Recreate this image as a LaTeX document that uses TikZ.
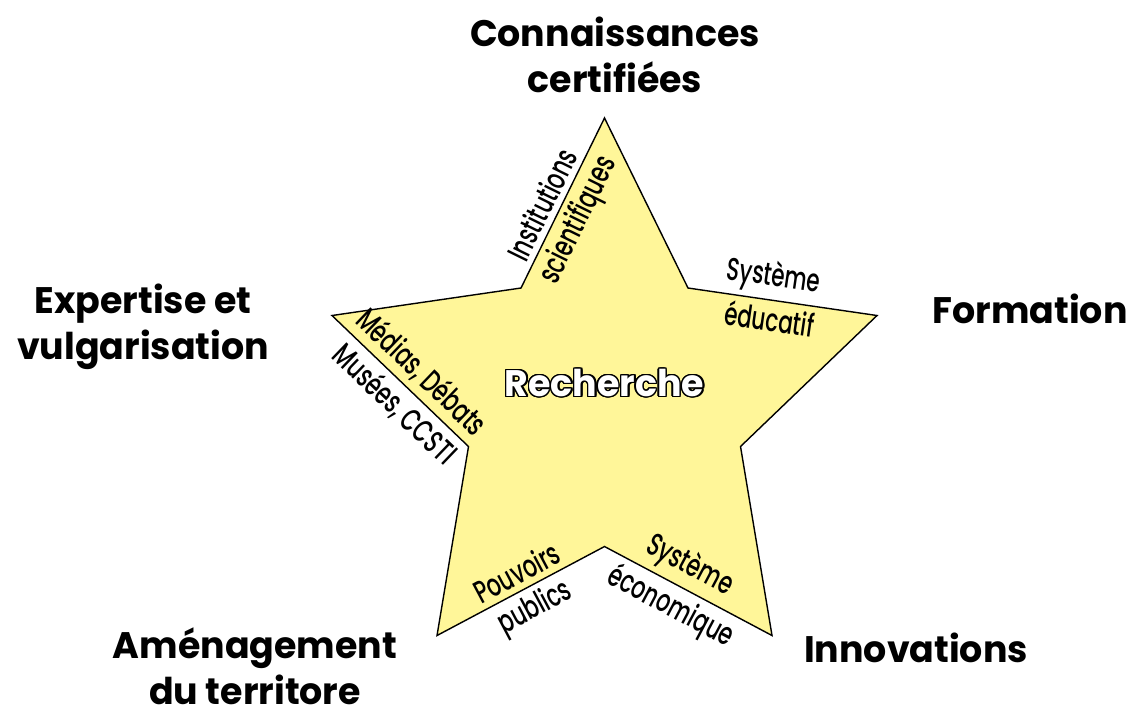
\documentclass[tikz,border=0pt]{standalone}
\usepackage{fontspec}
\newfontfamily\headfont{Poppins}[FakeStretch=0.985]
\newfontfamily\edgefont{Poppins Medium}[FakeStretch=0.68]
\definecolor{staryellow}{RGB}{255,246,153}
\tikzstyle{pole}=[%
	font=\headfont\bfseries\fontsize{10.5}{13}\selectfont, align=center, inner sep=0
]
\tikzstyle{edgetext}=[%
	font=\edgefont\fontsize{9}{10}\selectfont, sloped, inner sep=1.5pt
]
\tikzstyle{recherche}=[%
	font=\headfont\bfseries\fontsize{10.5}{12}\selectfont, inner sep=0
]

\begin{document}
\begin{tikzpicture}[x=0.01cm, y=-0.01cm]
	\useasboundingbox (0,0) rectangle (1131,708);

	\coordinate (u1) at (604.5,118);
	\coordinate (v1) at (688,288);
	\coordinate (u2) at (877,315.5);
	\coordinate (v2) at (740.5,446.5);
	\coordinate (u3) at (772,635.5);
	\coordinate (v3) at (604.5,546.5);
	\coordinate (u4) at (437,635.5);
	\coordinate (v4) at (468.5,446.5);
	\coordinate (u5) at (332,315.5);
	\coordinate (v5) at (521,288);
	\coordinate (centre) at (604.5,383);

	\draw[fill=staryellow, line width=0.4pt]
		(u1) -- (v1) -- (u2) -- (v2) -- (u3) -- (v3) -- (u4) -- (v4) -- (u5) -- (v5) -- cycle;

	\path (v5) -- (u1)
		node[edgetext, above, pos=0.445] (inst) {Institutions}
		node[edgetext, below, pos=0.456] (scient) {scientifiques};
	\path (v1) -- (u2)
		node[edgetext, above, pos=0.435] (syst1) {Système}
		node[edgetext, below, pos=0.446] (educ) {éducatif};
	\path (u5) -- (v4)
		node[edgetext, above, pos=0.55] (medias) {Médias, Débats}
		node[edgetext, below, pos=0.565] (musees) {Musées, CCSTI};
	\path (u4) -- (v3)
		node[edgetext, above, pos=0.526] (pouv) {Pouvoirs}
		node[edgetext, below, pos=0.525] (publ) {publics};
	\path (v3) -- (u3)
		node[edgetext, above, pos=0.445] (syst2) {Système}
		node[edgetext, below, pos=0.457] (econ) {économique};

	\foreach \a in {0,22.5,...,337.5}
		\node[recherche, text=black] at ([shift={(\a:0.4pt)}]centre) {Recherche};
	\node[recherche, text=white] (rech) at (centre) {Recherche};

	\node[pole] (conn) at (615,55) {Connaissances\\certifiées};
	\node[pole] (form) at (1030,309) {Formation};
	\node[pole] (innov) at (916,648) {Innovations};
	\node[pole] (amen) at (255,666) {Aménagement\\du territore};
	\node[pole] (expert) at (143,327) {Expertise et\\vulgarisation};
\end{tikzpicture}
\end{document}
